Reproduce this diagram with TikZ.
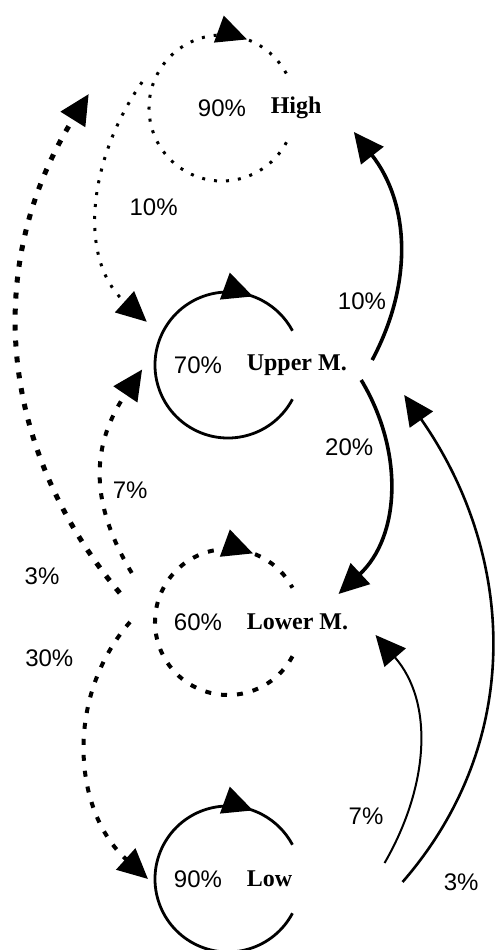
\documentclass[tikz,border=0pt]{standalone}
\usepackage{fontspec}
\setmainfont{Liberation Serif}
\newfontfamily\pctfont{Liberation Sans}
\usetikzlibrary{positioning, arrows.meta, decorations.markings}
\tikzset{
->, % every connector is directed
>={Triangle[length=15pt, width=14pt]}, % big filled heads
node distance=128.5pt, % from one level to the next
loop node/.style={circle, minimum size=73pt, inner sep=0pt, outer sep=0pt}, % circle that a loop runs on
state name/.style={inner sep=0pt, font=\fontsize{12}{14}\selectfont\bfseries},
pct/.style={inner sep=0pt, font=\fontsize{12}{14}\selectfont\pctfont},
fine dots/.style={line width=1.5pt, dash pattern=on 1.5pt off 4.5pt},
heavy dots/.style={line width=2pt, dash pattern=on 3pt off 5pt},
heavier dots/.style={line width=2.5pt, dash pattern=on 3pt off 5pt},
self loop/.style={-, postaction={decorate}, decoration={markings, mark=at position 0.862 with {\arrow{>}}}}, % head on top of the circle
}

\begin{document}
\begin{tikzpicture}[x=0.5pt, y=0.5pt]
        \useasboundingbox (0,0) rectangle (496,-950);
        % one loop per level
        \node[loop node] (hl) at (222,-108) {};
        \node[loop node, below of=hl, xshift=3pt] (ul) {};
        \node[loop node, below of=ul] (ll) {};
        \node[loop node, below of=ll] (wl) {};

        \node[pct] (p-high) at (hl.center) {90\%};
        \node[pct] (p-upper) at ([xshift=-15pt]ul.center) {70\%};
        \node[pct] (p-lower) at ([xshift=-15pt]ll.center) {60\%};
        \node[pct] (p-low) at ([xshift=-15pt]wl.center) {90\%};
        \node[state name, right=12pt of p-high] (high) {High};
        \node[state name, right=12pt of p-upper] (upper) {Upper M.};
        \node[state name, right=12pt of p-lower] (lower) {Lower M.};
        \node[state name, right=12pt of p-low] (low) {Low};

        \draw[fine dots, self loop] (hl.-28) arc[start angle=-28, end angle=-332, radius=36.5pt];
        \draw[line width=1.4pt, self loop] (ul.-28) arc[start angle=-28, end angle=-332, radius=36.5pt];
        \draw[heavy dots, self loop] (ll.-28) arc[start angle=-28, end angle=-332, radius=36.5pt];
        \draw[line width=1.4pt, self loop] (wl.-28) arc[start angle=-28, end angle=-332, radius=36.5pt];

        \path ([shift={(162:11)}]hl.162) edge[fine dots, out=235, in=138] node[pct, pos=0.5, right=15pt] {10\%} ([shift={(152:19)}]ul.152)
        ([shift={(25,5)}]upper.east) edge[line width=1.8pt, out=62, in=-52] node[pct, pos=0.25, left=3.5pt] {10\%} ([shift={(32,-24)}]high.east)
        ([shift={(14,-15)}]upper.east) edge[line width=1.8pt, out=-59, in=43] node[pct, pos=0.3, left=6pt] {20\%} ([shift={(-10,28)}]lower.east)
        ([shift={(153:35)}]ll.153) edge[heavy dots, out=121, in=236, looseness=1.1] node[pct, pos=0.4, right=4.5pt] {7\%} ([shift={(183:13)}]ul.183)
        ([shift={(165:39)}]ll.165) edge[heavier dots, out=130, in=238] node[pct, pos=0.05, left=20pt, yshift=-3pt] {3\%} ([shift={(174:61)}]hl.174)
        ([shift={(180:25)}]ll.180) edge[heavy dots, out=229, in=138] node[pct, pos=0.15, left=15pt] {30\%} ([shift={(180:7)}]wl.180)
        ([shift={(92,16)}]low.east) edge[line width=1pt, out=60, in=-49] node[pct, pos=0.2, left=11pt] {7\%} ([shift={(27,-13)}]lower.east)
        ([shift={(110,-3)}]low.east) edge[line width=1.3pt, out=49, in=-55] node[pct, pos=0, right=20pt] {3\%} ([shift={(57,-30)}]upper.east);
      \end{tikzpicture}
\end{document}
